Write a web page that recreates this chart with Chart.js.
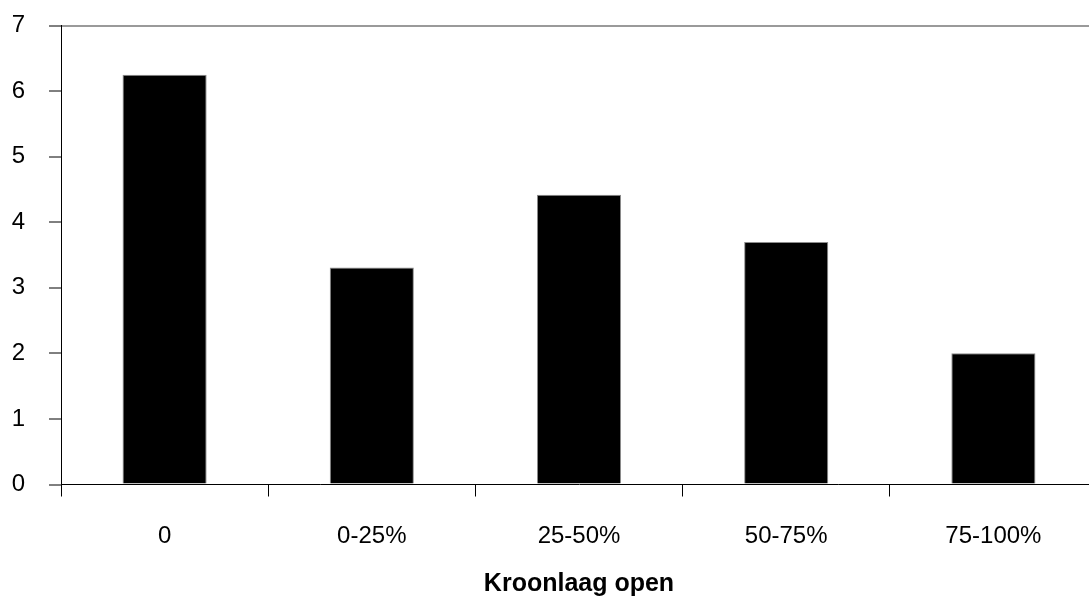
<!DOCTYPE html>
<html>
<head>
<meta charset="utf-8">
<script src="https://cdn.jsdelivr.net/npm/chart.js@4.4.1/dist/chart.umd.min.js"></script>
<style>
  html, body { margin: 0; padding: 0; overflow: hidden; background: #fff; }
</style>
</head>
<body>
<canvas id="myChart" width="1097" height="599"></canvas>
<script>
  const labels = ['0', '0-25%', '25-50%', '50-75%', '75-100%'];
  const values = [6.25, 3.31, 4.42, 3.70, 2.0];
  const yMin = 0;
  const yMax = 7;
  const xTitle = 'Kroonlaag open';

  const font = { family: '"Liberation Sans", Arial, sans-serif', size: 24 };

  const data = {
    labels: labels,
    datasets: [{
      data: values,
      backgroundColor: '#000000',
      borderColor: '#8c8c8c',
      borderWidth: 1,
      barPercentage: 0.406,
      categoryPercentage: 1.0,
    }]
  };

  const config = {
    type: 'bar',
    data: data,
    options: {
      responsive: false,
      animation: false,
      layout: { padding: { top: 25.5, right: 0, bottom: 0, left: 0 } },
      plugins: {
        legend: { display: false },
        tooltip: { enabled: false }
      },
      scales: {
        x: {
          grid: {
            offset: true,
            drawOnChartArea: false,
            tickLength: 12,
            tickColor: '#000000',
            tickWidth: 1
          },
          border: { color: '#000000', width: 1 },
          ticks: { color: '#000000', font: font, padding: 25 },
          title: {
            display: true,
            text: xTitle,
            color: '#000000',
            font: { family: font.family, size: 25, weight: 'bold' },
            padding: { top: 10, bottom: 0 }
          },
          // fixed axis height so the plot bottom sits at y = 484.5
          afterFit: (scale) => { scale.height = 114.5; }
        },
        y: {
          min: yMin,
          max: yMax,
          grid: {
            color: (ctx) => ctx.tick && ctx.tick.value === yMax ? '#9a9a9a' : 'rgba(0,0,0,0)',
            lineWidth: 2,
            tickLength: 12,
            tickColor: '#000000',
            tickWidth: 1
          },
          border: { color: '#000000', width: 1 },
          ticks: { stepSize: 1, color: '#000000', font: font, padding: 24 },
          afterFit: (scale) => {
            scale.width = 61;
            scale.paddingTop = 0;
            scale.paddingBottom = 0;
          }
        }
      }
    }
  };

  const myChart = new Chart(
    document.getElementById('myChart'),
    config
  );
</script>
</body>
</html>
